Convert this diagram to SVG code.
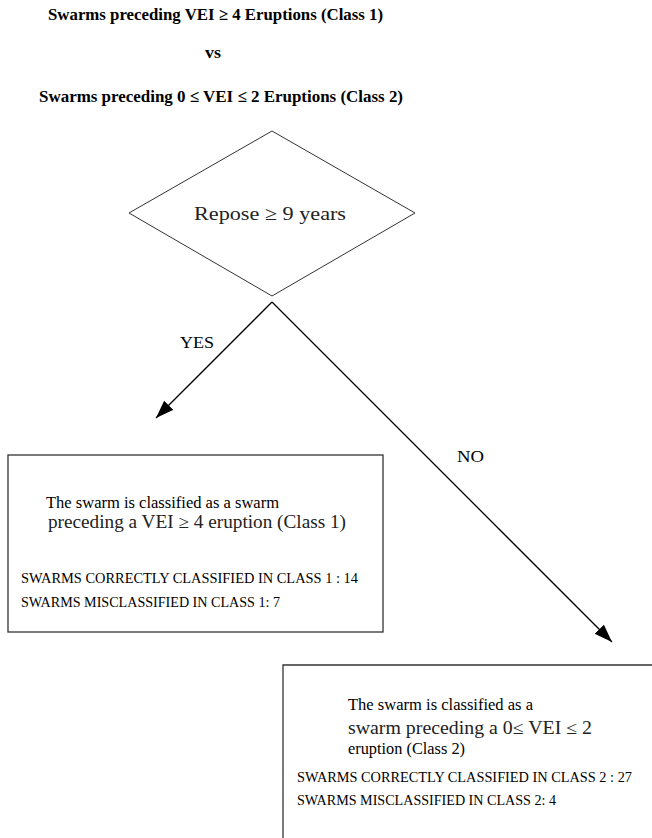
<svg xmlns="http://www.w3.org/2000/svg" width="652" height="838" viewBox="0 0 652 838">
<style>
.title{font-family:"Liberation Serif",serif;font-weight:bold;font-size:17px;fill:#000}
.cm{font-family:"Liberation Serif",serif;font-size:18px;fill:#222}
.rep{font-size:19px}
.tm{font-family:"Liberation Serif",serif;font-size:16.5px;fill:#000}
.caps{font-family:"Liberation Serif",serif;font-size:14px;fill:#000}
.lbl{font-family:"Liberation Serif",serif;font-size:16px;fill:#000}
.shape{fill:#fff;stroke:#333;stroke-width:1}
.box{fill:none;stroke:#333;stroke-width:1.3}
.edge{stroke:#000;stroke-width:1.3;fill:none}
</style>
<defs>
<marker id="ah" markerUnits="userSpaceOnUse" markerWidth="20" markerHeight="14" refX="18" refY="6.5" orient="auto">
<path d="M0,0 L18,6.5 L0,13 Z" fill="#000"/>
</marker>
</defs>
<rect width="652" height="838" fill="#fff"/>
<g id="title">
<text class="title" x="48" y="20" textLength="335" lengthAdjust="spacingAndGlyphs">Swarms preceding VEI ≥ 4 Eruptions (Class 1)</text>
<text class="title" x="205" y="58" textLength="16" lengthAdjust="spacingAndGlyphs">vs</text>
<text class="title" x="39" y="102" textLength="364" lengthAdjust="spacingAndGlyphs">Swarms preceding 0 ≤ VEI ≤ 2 Eruptions (Class 2)</text>
</g>
<g id="decision">
<polygon class="shape" points="272,131 415,213 272,296 129,213"/>
<text class="cm rep" x="194" y="220" textLength="152" lengthAdjust="spacingAndGlyphs">Repose ≥ 9 years</text>
</g>
<g id="connectors">
<line class="edge" x1="272" y1="302" x2="156" y2="418" marker-end="url(#ah)"/>
<line class="edge" x1="272" y1="302" x2="612" y2="642" marker-end="url(#ah)"/>
<text class="lbl" x="180" y="348" textLength="34" lengthAdjust="spacingAndGlyphs">YES</text>
<text class="lbl" x="457" y="462" textLength="27" lengthAdjust="spacingAndGlyphs">NO</text>
</g>
<g id="class1">
<rect class="box" x="8" y="455" width="375" height="177"/>
<text class="tm" x="46" y="508" textLength="233" lengthAdjust="spacingAndGlyphs">The swarm is classified as a swarm</text>
<text class="cm" x="48" y="528" textLength="298" lengthAdjust="spacingAndGlyphs">preceding a VEI ≥ 4 eruption (Class 1)</text>
<text class="caps" x="21" y="583" textLength="337" lengthAdjust="spacingAndGlyphs">SWARMS CORRECTLY CLASSIFIED IN CLASS 1 : 14</text>
<text class="caps" x="21" y="607" textLength="259" lengthAdjust="spacingAndGlyphs">SWARMS MISCLASSIFIED IN CLASS 1: 7</text>
</g>
<g id="class2">
<path class="box" d="M652,665 L283,665 L283,838"/>
<text class="tm" x="348" y="710" textLength="185" lengthAdjust="spacingAndGlyphs">The swarm is classified as a</text>
<text class="cm" x="348" y="734" textLength="244" lengthAdjust="spacingAndGlyphs">swarm preceding a 0≤ VEI ≤ 2</text>
<text class="tm" x="348" y="754" textLength="117" lengthAdjust="spacingAndGlyphs">eruption (Class 2)</text>
<text class="caps" x="297" y="782" textLength="335" lengthAdjust="spacingAndGlyphs">SWARMS CORRECTLY CLASSIFIED IN CLASS 2 : 27</text>
<text class="caps" x="297" y="805" textLength="259" lengthAdjust="spacingAndGlyphs">SWARMS MISCLASSIFIED IN CLASS 2: 4</text>
</g>
</svg>
